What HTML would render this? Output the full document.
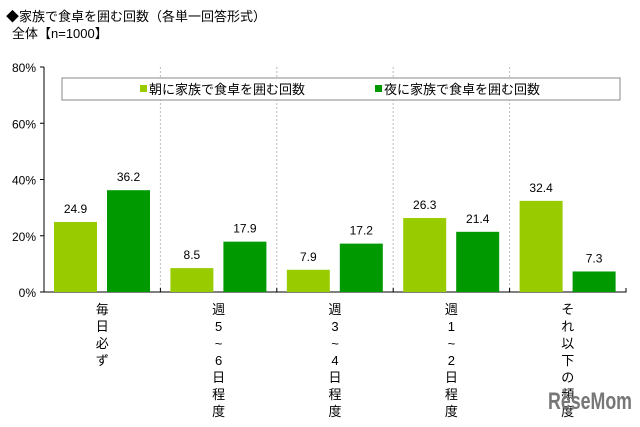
<!DOCTYPE html>
<html><head><meta charset="utf-8"><style>
body{margin:0;background:#fff;width:640px;height:422px;overflow:hidden;font-family:"Liberation Sans","Noto Sans CJK JP",sans-serif;}
svg text{font-family:"Liberation Sans","Noto Sans CJK JP",sans-serif;}
</style></head><body>
<svg id="c" width="640" height="422">
<text x="6" y="21" font-size="13" fill="#000">◆家族で食卓を囲む回数（各単一回答形式）</text>
<text x="12" y="38" font-size="13" fill="#000">全体【n=1000】</text>
<g id="g"></g>
<text x="548" y="409" font-size="24" font-weight="bold" fill="#777" textLength="84" lengthAdjust="spacingAndGlyphs">ReseMom</text>
</svg>
<script>
const categories=[["毎","日","必","ず"],["週","5","~","6","日","程","度"],["週","3","~","4","日","程","度"],["週","1","~","2","日","程","度"],["そ","れ","以","下","の","頻","度"]];
const morning=[24.9,8.5,7.9,26.3,32.4];
const evening=[36.2,17.9,17.2,21.4,7.3];
const ticks=[0,20,40,60,80];
const seriesNames=["朝に家族で食卓を囲む回数","夜に家族で食卓を囲む回数"];
const L=44,R=626,T=67,B=292,NS="http://www.w3.org/2000/svg";
const g=document.getElementById('g');
const y=v=>B-(v/80)*(B-T);
const gw=(R-L)/categories.length;
function el(t,a,p){const e=document.createElementNS(NS,t);for(const k in a)e.setAttribute(k,a[k]);(p||g).appendChild(e);return e;}
ticks.forEach(t=>{
 const e=el('text',{x:L-8,y:y(t)+5,'font-size':12,'text-anchor':'end'});e.textContent=t+'%';
 
 
 const tk=el('line',{x1:L-4,x2:L,y1:y(t),y2:y(t),stroke:'#000'});
 
 
});
for(let i=1;i<categories.length;i++){
 const d=el('line',{x1:L+gw*i,x2:L+gw*i,y1:T,y2:B,stroke:'#bbb','stroke-dasharray':'2,2'});
 
 
}
const ax=el('path',{d:`M${L} ${T}V${B}H${R}V${B-4}`,fill:'none',stroke:'#000'});


for(let i=1;i<categories.length;i++){const t=el('line',{x1:L+gw*i,x2:L+gw*i,y1:B,y2:B-4,stroke:'#000'});
 
 }
const bw=43;
categories.forEach((c,i)=>{
 const x0=L+gw*i;
 [[morning[i],'#99cc00',10,'bar-morning'],[evening[i],'#009900',63,'bar-evening']].forEach(([v,col,off,nm])=>{
  const r=el('rect',{x:x0+off,y:y(v),width:bw,height:B-y(v),fill:col});
  
  
  const t=el('text',{x:x0+off+bw/2,y:y(v)-9,'font-size':12,'text-anchor':'middle'});t.textContent=v.toFixed(1);
  
  
 });
 c.forEach((ch,j)=>{
  const t=el('text',{x:x0+gw/2,y:314+j*17,'font-size':13,'text-anchor':'middle'});t.textContent=ch;
  
  
 });
});
const lg=el('rect',{x:62,y:78,width:558,height:22,fill:'#fff',stroke:'#888'});


[[140,'#99cc00'],[375,'#009900']].forEach(([x,col],k)=>{
 const s=el('rect',{x:x,y:85,width:7,height:7,fill:col});
 
 
 const t=el('text',{x:x+9,y:94,'font-size':13});t.textContent=seriesNames[k];
 
 
});
</script>
</body></html>
